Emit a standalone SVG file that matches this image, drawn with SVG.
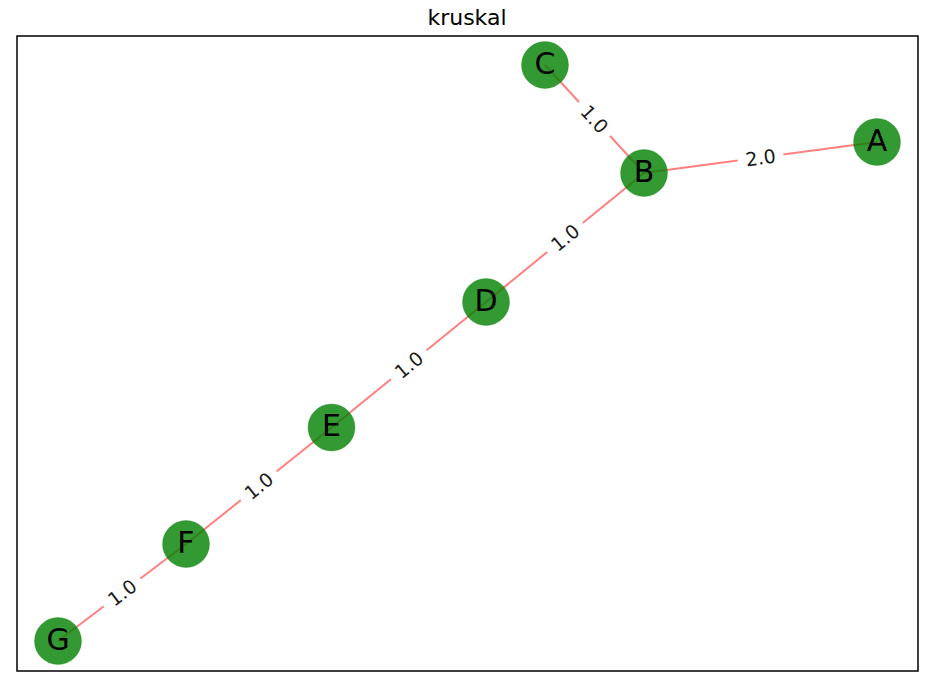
<svg xmlns="http://www.w3.org/2000/svg" width="930" height="680" viewBox="0 0 930 680">
<style>
.edge{stroke:#ff0000;stroke-opacity:0.5;stroke-width:2;fill:none}
.node circle{fill:#008000;fill-opacity:0.8;stroke:#008000;stroke-opacity:0.3;stroke-width:1}
.node text{font-family:"DejaVu Sans",sans-serif;font-size:30px;fill:#000;text-anchor:middle;dominant-baseline:central}
.elabel rect{fill:#fff}
.elabel text{font-family:"DejaVu Sans",sans-serif;font-size:19px;fill:#1a1a1a;text-anchor:middle;dominant-baseline:central}
.title{font-family:"DejaVu Sans",sans-serif;font-size:22px;fill:#000;text-anchor:middle}
</style>
<rect x="0" y="0" width="930" height="680" fill="#fff"/>
<text class="title" x="467" y="25">kruskal</text>
<rect x="17" y="36" width="901" height="635" fill="none" stroke="#000" stroke-width="1.5"/>
<g id="connectors">
<line class="edge" x1="545" y1="65" x2="644" y2="173"/>
<line class="edge" x1="644" y1="173" x2="877" y2="142"/>
<line class="edge" x1="644" y1="173" x2="486" y2="302"/>
<line class="edge" x1="486" y1="302" x2="331.5" y2="427.5"/>
<line class="edge" x1="331.5" y1="427.5" x2="186" y2="544"/>
<line class="edge" x1="186" y1="544" x2="58" y2="641"/>
<g class="elabel" transform="translate(594.5,119) rotate(47.5)"><rect x="-23" y="-12" width="46" height="24"/><text x="0" y="0">1.0</text></g>
<g class="elabel" transform="translate(760.5,157.5) rotate(-7.6)"><rect x="-23" y="-12" width="46" height="24"/><text x="0" y="0">2.0</text></g>
<g class="elabel" transform="translate(565,237.5) rotate(-39.2)"><rect x="-23" y="-12" width="46" height="24"/><text x="0" y="0">1.0</text></g>
<g class="elabel" transform="translate(408.75,364.75) rotate(-39.1)"><rect x="-23" y="-12" width="46" height="24"/><text x="0" y="0">1.0</text></g>
<g class="elabel" transform="translate(258.75,485.75) rotate(-38.7)"><rect x="-23" y="-12" width="46" height="24"/><text x="0" y="0">1.0</text></g>
<g class="elabel" transform="translate(122,592.5) rotate(-37.2)"><rect x="-23" y="-12" width="46" height="24"/><text x="0" y="0">1.0</text></g>
</g>
<g id="node-A" class="node"><circle cx="877" cy="142" r="23.5"/><text x="877" y="140">A</text></g>
<g id="node-B" class="node"><circle cx="644" cy="173" r="23.5"/><text x="644" y="171">B</text></g>
<g id="node-C" class="node"><circle cx="545" cy="65" r="23.5"/><text x="545" y="63">C</text></g>
<g id="node-D" class="node"><circle cx="486" cy="302" r="23.5"/><text x="486" y="300">D</text></g>
<g id="node-E" class="node"><circle cx="331.5" cy="427.5" r="23.5"/><text x="331.5" y="425.5">E</text></g>
<g id="node-F" class="node"><circle cx="186" cy="544" r="23.5"/><text x="186" y="542">F</text></g>
<g id="node-G" class="node"><circle cx="58" cy="641" r="23.5"/><text x="58" y="639">G</text></g>
</svg>
